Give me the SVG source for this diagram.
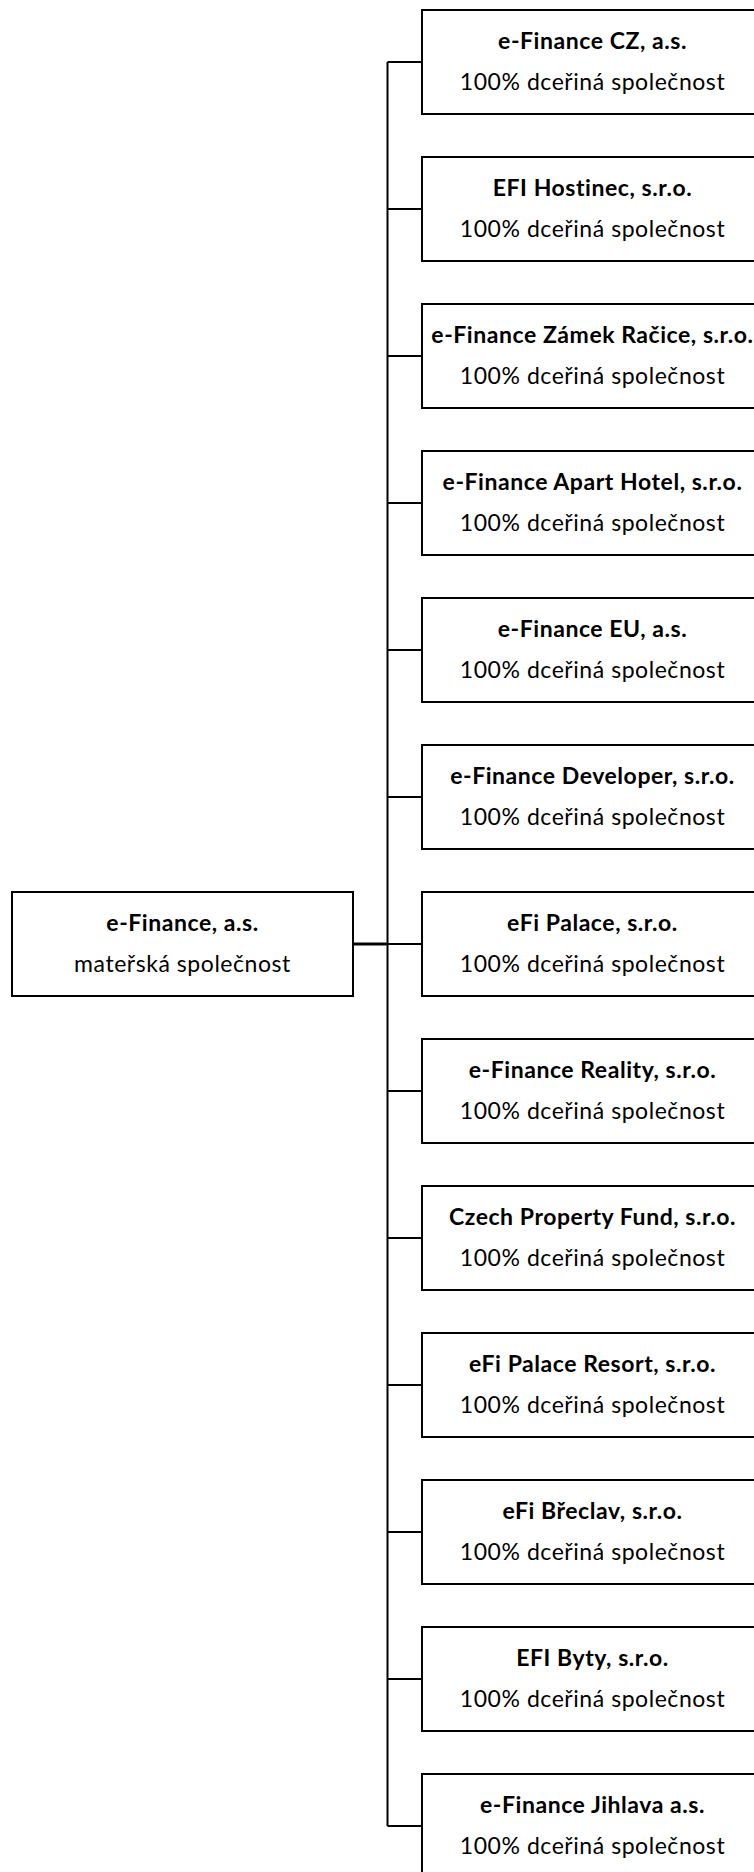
<svg xmlns="http://www.w3.org/2000/svg" width="754" height="1872" viewBox="0 0 754 1872">
<style>
.box{fill:#fff;stroke:#000;stroke-width:2}
.t{font-family:Lato,"Open Sans",sans-serif;font-size:23px;letter-spacing:0.55px;text-anchor:middle;fill:#000}
.b{font-weight:bold}
.ln{stroke:#000;stroke-width:2;fill:none}
</style>
<rect width="754" height="1872" fill="#fff"/>
<g id="connectors">
<line class="ln" x1="387.5" y1="62" x2="387.5" y2="1826"/>
<line class="ln" x1="353" y1="944" x2="387.5" y2="944" style="stroke-width:3"/>
<line class="ln" x1="387.5" y1="62" x2="422" y2="62"/>
<line class="ln" x1="387.5" y1="209" x2="422" y2="209"/>
<line class="ln" x1="387.5" y1="356" x2="422" y2="356"/>
<line class="ln" x1="387.5" y1="503" x2="422" y2="503"/>
<line class="ln" x1="387.5" y1="650" x2="422" y2="650"/>
<line class="ln" x1="387.5" y1="797" x2="422" y2="797"/>
<line class="ln" x1="387.5" y1="944" x2="422" y2="944"/>
<line class="ln" x1="387.5" y1="1091" x2="422" y2="1091"/>
<line class="ln" x1="387.5" y1="1238" x2="422" y2="1238"/>
<line class="ln" x1="387.5" y1="1385" x2="422" y2="1385"/>
<line class="ln" x1="387.5" y1="1532" x2="422" y2="1532"/>
<line class="ln" x1="387.5" y1="1679" x2="422" y2="1679"/>
<line class="ln" x1="387.5" y1="1826" x2="422" y2="1826"/>
</g>
<g id="parent">
<rect class="box" x="12" y="892" width="341" height="104"/>
<text class="t b" x="182.5" y="931">e-Finance, a.s.</text>
<text class="t" x="182.5" y="972">mateřská společnost</text>
</g>
<g id="n1"><rect class="box" x="422" y="10" width="340" height="104"/><text class="t b" x="592.5" y="48.5">e-Finance CZ, a.s.</text><text class="t" x="592.5" y="89.5">100% dceřiná společnost</text></g>
<g id="n2"><rect class="box" x="422" y="157" width="340" height="104"/><text class="t b" x="592.5" y="195.5">EFI Hostinec, s.r.o.</text><text class="t" x="592.5" y="236.5">100% dceřiná společnost</text></g>
<g id="n3"><rect class="box" x="422" y="304" width="340" height="104"/><text class="t b" x="592.5" y="342.5">e-Finance Zámek Račice, s.r.o.</text><text class="t" x="592.5" y="383.5">100% dceřiná společnost</text></g>
<g id="n4"><rect class="box" x="422" y="451" width="340" height="104"/><text class="t b" x="592.5" y="489.5">e-Finance Apart Hotel, s.r.o.</text><text class="t" x="592.5" y="530.5">100% dceřiná společnost</text></g>
<g id="n5"><rect class="box" x="422" y="598" width="340" height="104"/><text class="t b" x="592.5" y="636.5">e-Finance EU, a.s.</text><text class="t" x="592.5" y="677.5">100% dceřiná společnost</text></g>
<g id="n6"><rect class="box" x="422" y="745" width="340" height="104"/><text class="t b" x="592.5" y="783.5">e-Finance Developer, s.r.o.</text><text class="t" x="592.5" y="824.5">100% dceřiná společnost</text></g>
<g id="n7"><rect class="box" x="422" y="892" width="340" height="104"/><text class="t b" x="592.5" y="930.5">eFi Palace, s.r.o.</text><text class="t" x="592.5" y="971.5">100% dceřiná společnost</text></g>
<g id="n8"><rect class="box" x="422" y="1039" width="340" height="104"/><text class="t b" x="592.5" y="1077.5">e-Finance Reality, s.r.o.</text><text class="t" x="592.5" y="1118.5">100% dceřiná společnost</text></g>
<g id="n9"><rect class="box" x="422" y="1186" width="340" height="104"/><text class="t b" x="592.5" y="1224.5">Czech Property Fund, s.r.o.</text><text class="t" x="592.5" y="1265.5">100% dceřiná společnost</text></g>
<g id="n10"><rect class="box" x="422" y="1333" width="340" height="104"/><text class="t b" x="592.5" y="1371.5">eFi Palace Resort, s.r.o.</text><text class="t" x="592.5" y="1412.5">100% dceřiná společnost</text></g>
<g id="n11"><rect class="box" x="422" y="1480" width="340" height="104"/><text class="t b" x="592.5" y="1518.5">eFi Břeclav, s.r.o.</text><text class="t" x="592.5" y="1559.5">100% dceřiná společnost</text></g>
<g id="n12"><rect class="box" x="422" y="1627" width="340" height="104"/><text class="t b" x="592.5" y="1665.5">EFI Byty, s.r.o.</text><text class="t" x="592.5" y="1706.5">100% dceřiná společnost</text></g>
<g id="n13"><rect class="box" x="422" y="1774" width="340" height="104"/><text class="t b" x="592.5" y="1812.5">e-Finance Jihlava a.s.</text><text class="t" x="592.5" y="1853.5">100% dceřiná společnost</text></g>
</svg>
